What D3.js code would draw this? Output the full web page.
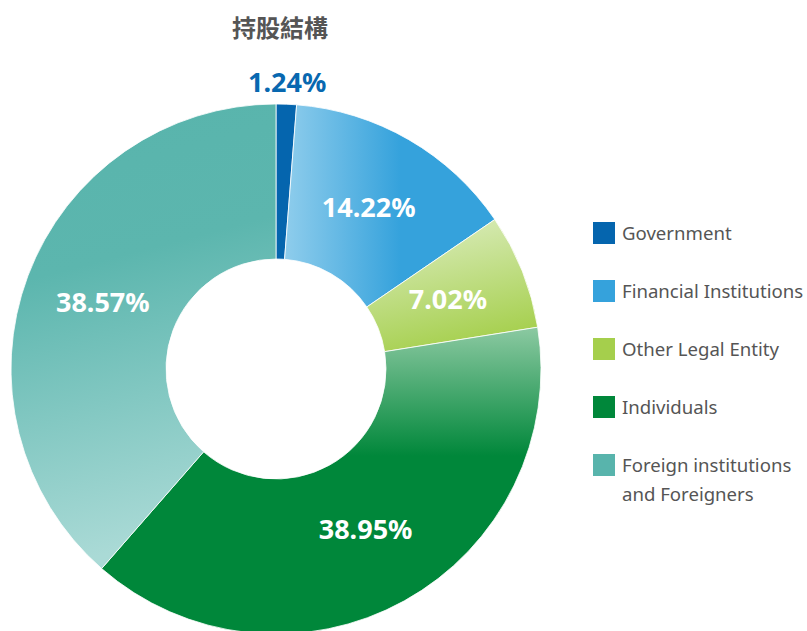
<!DOCTYPE html>
<html>
<head>
<meta charset="utf-8">
<script src="https://cdn.jsdelivr.net/npm/d3@7"></script>
<style>
  body { margin: 0; background: #fff; }
  text { font-family: "Noto Sans", "Noto Sans CJK TC", sans-serif; }
</style>
</head>
<body>
<div id="chart-area"></div>
<script>
// 持股結構 data
const categories = ["Government", "Financial Institutions", "Other Legal Entity", "Individuals", "Foreign institutions and Foreigners"];
const legendLines = [["Government"], ["Financial Institutions"], ["Other Legal Entity"], ["Individuals"], ["Foreign institutions", "and Foreigners"]];
const shares = [1.24, 14.22, 7.02, 38.95, 38.57];
const colors = ["#0565ae", "#35a2dc", "#a5cf4c", "#00873a", "#58b4ac"];

const width = 807;
const height = 631;
const cx = 276, cy = 369;
const outerR = 265, innerR = 110;

const svg = d3.select("#chart-area")
    .append("svg")
    .attr("width", width)
    .attr("height", height);

// gradients for slices
const defs = svg.append("defs");
const grads = [
    null,
    {x1: 0, y1: 0, x2: 1, y2: 0, stops: [[0, "#8fcdec"], [0.55, "#35a2dc"], [1, "#35a2dc"]]},
    {x1: 0.2, y1: 0, x2: 0.5, y2: 1, stops: [[0, "#dcedc0"], [1, "#a5cf4c"]]},
    {x1: 0, y1: 0, x2: 0, y2: 1, stops: [[0, "#8cc9a2"], [0.42, "#00873a"], [1, "#00873a"]]},
    {x1: 0, y1: 0, x2: 0.15, y2: 1, stops: [[0, "#58b4ac"], [0.38, "#5cb6ae"], [1, "#aadad6"]]}
];
grads.forEach((g, i) => {
    if (!g) return;
    const lg = defs.append("linearGradient")
        .attr("id", "grad" + i)
        .attr("x1", g.x1).attr("y1", g.y1)
        .attr("x2", g.x2).attr("y2", g.y2);
    g.stops.forEach(s => {
        lg.append("stop").attr("offset", s[0]).attr("stop-color", s[1]);
    });
});

// title
svg.append("text")
    .attr("x", 280)
    .attr("y", 37)
    .attr("text-anchor", "middle")
    .attr("font-family", "'Noto Sans CJK TC', sans-serif")
    .attr("font-size", 24)
    .attr("font-weight", "bold")
    .attr("fill", "#555")
    .text("持股結構");

const pie = d3.pie().sort(null).value(d => d);
const arcs = pie(shares);
const arc = d3.arc().innerRadius(innerR).outerRadius(outerR);
const labelArc = d3.arc().innerRadius(185).outerRadius(185);

const g = svg.append("g").attr("transform", `translate(${cx},${cy})`);

g.selectAll(".slice")
    .data(arcs)
    .enter()
    .append("path")
    .attr("class", "slice")
    .attr("d", arc)
    .attr("fill", (d, i) => grads[i] ? `url(#grad${i})` : colors[i])
    .attr("stroke", "#fff")
    .attr("stroke-width", 0.8);

// value labels
const outerArc = d3.arc().innerRadius(285).outerRadius(285);
g.selectAll(".val")
    .data(arcs)
    .enter()
    .append("text")
    .attr("class", "val")
    .attr("transform", d => {
        const c = d.data < 3 ? outerArc.centroid(d) : labelArc.centroid(d);
        return `translate(${c[0]},${c[1]})`;
    })
    .attr("text-anchor", "middle")
    .attr("dy", "0.3em")
    .attr("font-size", 27)
    .attr("font-weight", "bold")
    .attr("fill", d => d.data < 3 ? "#0868b0" : "#fff")
    .text(d => d.data.toFixed(2) + "%");

// legend
const legY = d3.scalePoint().domain(categories).range([233, 465]);
const leg = svg.selectAll(".legend")
    .data(categories)
    .enter()
    .append("g")
    .attr("class", "legend")
    .attr("transform", d => `translate(593,${legY(d)})`);

leg.append("rect")
    .attr("x", 0)
    .attr("y", -11)
    .attr("width", 22)
    .attr("height", 22)
    .attr("fill", (d, i) => colors[i]);

leg.append("text")
    .attr("x", 29)
    .attr("y", 0)
    .attr("font-size", 18.6)
    .attr("fill", "#555")
    .selectAll("tspan")
    .data((d, i) => legendLines[i])
    .enter()
    .append("tspan")
    .attr("x", 29)
    .attr("dy", (d, j) => j === 0 ? "0.36em" : "1.55em")
    .text(d => d);
</script>
</body>
</html>
